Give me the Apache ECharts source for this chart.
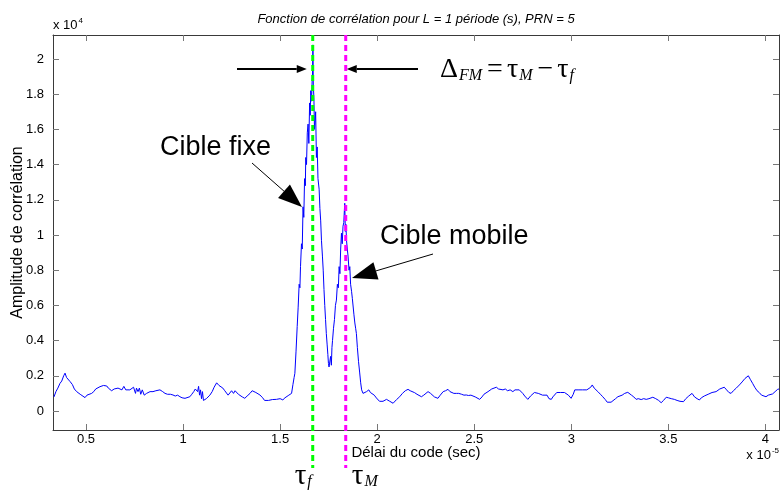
<!DOCTYPE html>
<html>
<head>
<meta charset="utf-8">
<script src="https://cdn.jsdelivr.net/npm/echarts@6/dist/echarts.min.js"></script>
<style>html,body{margin:0;padding:0;background:#fff}#c{width:781px;height:493px}</style>
</head>
<body>
<div id="c"></div>
<script>
// Delay (x 1e-5 s) and correlation amplitude (x 1e4)
const delayBase = [0.335,0.345,0.355,0.366,0.375,0.385,0.392,0.40,0.41,0.418,0.43,0.44,0.452,0.46,0.47,0.48,0.495,0.505,0.515,0.529,0.54,0.55,0.56,0.572,0.58,0.59,0.6,0.607,0.615,0.625,0.632,0.645,0.655,0.665,0.675,0.685,0.695,0.705,0.715,0.726,0.735,0.745,0.755,0.76,0.768,0.775,0.782,0.79,0.8,0.812,0.82,0.83,0.845,0.86,0.87,0.881,0.895,0.907,0.92,0.935,0.948,0.96,0.972,0.984,0.995,1.01,1.02,1.035,1.045,1.055,1.063,1.07,1.075,1.08,1.085,1.09,1.095,1.1,1.105,1.112,1.12,1.13,1.138,1.15,1.16,1.173,1.185,1.195,1.205,1.215,1.225,1.232,1.241,1.25,1.26,1.268,1.276,1.285,1.295,1.305,1.318,1.33,1.345,1.356,1.365,1.375,1.385,1.396,1.41,1.42,1.43,1.44,1.45,1.46,1.47,1.481,1.49,1.5,1.514,1.525,1.535,1.545,1.55];
const ampBase = [0.08,0.11,0.13,0.157,0.17,0.20,0.215,0.19,0.18,0.167,0.15,0.125,0.11,0.12,0.095,0.1,0.076,0.09,0.085,0.10,0.11,0.125,0.12,0.138,0.13,0.145,0.135,0.142,0.13,0.125,0.115,0.125,0.12,0.13,0.135,0.12,0.14,0.12,0.13,0.12,0.11,0.135,0.1,0.13,0.11,0.13,0.095,0.12,0.09,0.10,0.095,0.11,0.11,0.115,0.12,0.12,0.11,0.10,0.095,0.095,0.091,0.085,0.09,0.081,0.075,0.072,0.08,0.081,0.095,0.11,0.125,0.135,0.11,0.14,0.09,0.12,0.07,0.11,0.06,0.053,0.07,0.08,0.09,0.11,0.135,0.16,0.145,0.135,0.13,0.115,0.11,0.09,0.10,0.115,0.1,0.115,0.11,0.095,0.085,0.08,0.072,0.085,0.1,0.115,0.115,0.105,0.095,0.091,0.075,0.06,0.053,0.06,0.055,0.065,0.06,0.066,0.06,0.07,0.063,0.075,0.07,0.09,0.081];
const delayPeaks = [1.559,1.566,1.572,1.576,1.582,1.588,1.593,1.598,1.602,1.605,1.61,1.614,1.618,1.622,1.626,1.63,1.632,1.636,1.64,1.644,1.648,1.652,1.655,1.658,1.662,1.665,1.667,1.669,1.671,1.674,1.677,1.679,1.683,1.687,1.691,1.695,1.701,1.705,1.709,1.713,1.718,1.722,1.726,1.73,1.734,1.738,1.742,1.746,1.749,1.752,1.756,1.76,1.764,1.767,1.770,1.775,1.78,1.785,1.79,1.795,1.8,1.804,1.808,1.812,1.816,1.82,1.824,1.828,1.831,1.833,1.836,1.839,1.842,1.846,1.85,1.855,1.859,1.863,1.868,1.872,1.876,1.88,1.885,1.889,1.893,1.898,1.904,1.91,1.915,1.92,1.927];
const ampPeaks = [0.10,0.15,0.19,0.214,0.34,0.48,0.59,0.72,0.70,0.82,0.95,0.92,1.16,1.10,1.32,1.28,1.44,1.40,1.58,1.63,1.52,1.75,1.68,1.82,1.76,1.88,1.92,2.08,1.85,1.78,1.60,1.63,1.70,1.44,1.50,1.32,1.26,1.15,1.08,0.97,0.88,0.80,0.69,0.60,0.52,0.44,0.38,0.32,0.27,0.25,0.245,0.31,0.26,0.36,0.40,0.47,0.52,0.60,0.63,0.72,0.70,0.82,0.78,0.92,1.01,0.95,1.05,1.07,1.14,1.18,1.02,1.06,0.97,0.92,0.88,0.80,0.82,0.72,0.68,0.64,0.63,0.55,0.50,0.47,0.44,0.36,0.28,0.216,0.16,0.12,0.10];
const delayTail = [1.935,1.945,1.957,1.965,1.975,1.985,1.996,2.005,2.012,2.022,2.03,2.04,2.048,2.055,2.065,2.075,2.082,2.09,2.1,2.116,2.13,2.145,2.159,2.17,2.18,2.193,2.205,2.215,2.228,2.24,2.25,2.262,2.275,2.285,2.295,2.305,2.313,2.325,2.34,2.352,2.365,2.375,2.385,2.395,2.408,2.42,2.435,2.447,2.459,2.47,2.483,2.493,2.505,2.515,2.528,2.54,2.55,2.56,2.571,2.58,2.59,2.6,2.614,2.625,2.635,2.648,2.66,2.672,2.685,2.699,2.71,2.72,2.732,2.742,2.75,2.76,2.776,2.79,2.8,2.81,2.82,2.83,2.84,2.852,2.862,2.875,2.885,2.897,2.905,2.915,2.925,2.934,2.945,2.955,2.965,2.974,2.985,2.999,3.01,3.018,3.025,3.035,3.045,3.058,3.068,3.08,3.09,3.1,3.108,3.118,3.128,3.137,3.15,3.162,3.175,3.185,3.193,3.205,3.215,3.228,3.24,3.25,3.262,3.275,3.285,3.291,3.3,3.31,3.322,3.334,3.345,3.36,3.373,3.386,3.4,3.41,3.42,3.435,3.45,3.463,3.475,3.489,3.5,3.515,3.531,3.545,3.56,3.578,3.59,3.605,3.622,3.635,3.648,3.66,3.67,3.685,3.694,3.705,3.715,3.725,3.735,3.746,3.755,3.765,3.775,3.788,3.8,3.812,3.823,3.835,3.85,3.866,3.88,3.895,3.905,3.912,3.922,3.934,3.945,3.957,3.969,3.98,3.99,4.003,4.015,4.025,4.037,4.05,4.063,4.07];
const ampTail = [0.095,0.11,0.12,0.105,0.1,0.09,0.074,0.065,0.055,0.047,0.055,0.06,0.066,0.06,0.055,0.05,0.044,0.055,0.065,0.081,0.1,0.115,0.123,0.115,0.11,0.104,0.095,0.09,0.081,0.09,0.1,0.11,0.1,0.09,0.08,0.085,0.072,0.09,0.11,0.115,0.123,0.11,0.118,0.1,0.10,0.1,0.095,0.09,0.091,0.088,0.09,0.085,0.08,0.075,0.066,0.08,0.095,0.1,0.11,0.12,0.125,0.13,0.135,0.125,0.13,0.12,0.125,0.115,0.12,0.11,0.12,0.115,0.12,0.123,0.1,0.085,0.066,0.085,0.095,0.105,0.11,0.1,0.105,0.09,0.081,0.09,0.07,0.066,0.08,0.09,0.105,0.11,0.105,0.11,0.105,0.10,0.09,0.072,0.095,0.12,0.129,0.12,0.115,0.12,0.11,0.12,0.13,0.135,0.148,0.13,0.12,0.11,0.095,0.081,0.065,0.05,0.04,0.05,0.06,0.07,0.081,0.085,0.09,0.1,0.105,0.106,0.1,0.09,0.08,0.066,0.07,0.065,0.07,0.066,0.07,0.075,0.078,0.07,0.06,0.047,0.06,0.078,0.075,0.07,0.066,0.06,0.055,0.053,0.07,0.085,0.10,0.08,0.07,0.0625,0.075,0.085,0.091,0.095,0.1,0.105,0.11,0.11,0.12,0.125,0.13,0.135,0.12,0.105,0.10,0.115,0.13,0.148,0.165,0.185,0.195,0.2,0.18,0.157,0.135,0.115,0.104,0.09,0.085,0.081,0.09,0.095,0.097,0.11,0.123,0.125];
const xTicks = [0.5,1,1.5,2,2.5,3,3.5,4];
const yTicks = [0,0.2,0.4,0.6,0.8,1,1.2,1.4,1.6,1.8,2];
const tauF = 1.668;
const tauM = 1.838;
const titleText = 'Fonction de corrélation pour L = 1 période (s), PRN = 5';
const xName = 'Délai du code (sec)';
const yName = 'Amplitude de corrélation';

const delays = delayBase.concat(delayPeaks, delayTail);
const amps = ampBase.concat(ampPeaks, ampTail);
const seriesData = delays.map((d, i) => [d, amps[i]]);

const chart = echarts.init(document.getElementById('c'), null, {renderer: 'canvas'});
const FONT = 'Liberation Sans, Arial, Helvetica, sans-serif';
const SERIF = 'Liberation Serif, Times New Roman, serif';
const axisLineStyle = {color: '#3a3a3a', width: 1};
const tickStyle = {color: '#777', width: 1};
const xmin = 0.33, xmax = 4.07, ymin = -0.108, ymax = 2.136;

function xAxisCfg(pos, showLabel) {
  return {
    type: 'value', position: pos, min: xmin, max: xmax,
    axisLine: {show: true, onZero: false, lineStyle: axisLineStyle},
    axisTick: {show: true, inside: true, length: 6, customValues: xTicks, lineStyle: tickStyle},
    axisLabel: {show: showLabel, customValues: xTicks, color: '#000', fontFamily: FONT, fontSize: 13, margin: 3,
      formatter: v => String(v)},
    splitLine: {show: false}
  };
}
function yAxisCfg(pos, showLabel) {
  return {
    type: 'value', position: pos, min: ymin, max: ymax,
    axisLine: {show: true, onZero: false, lineStyle: axisLineStyle},
    axisTick: {show: true, inside: true, length: 6, customValues: yTicks, lineStyle: tickStyle},
    axisLabel: {show: showLabel, customValues: yTicks, color: '#000', fontFamily: FONT, fontSize: 13, margin: 9,
      formatter: v => String(v)},
    splitLine: {show: false}
  };
}

const xa0 = xAxisCfg('bottom', true);
xa0.name = xName; xa0.nameLocation = 'middle'; xa0.nameGap = 15; xa0.nameMoveOverlap = false;
xa0.nameTextStyle = {color: '#000', fontFamily: FONT, fontSize: 15};
const ya0 = yAxisCfg('left', true);
ya0.name = yName; ya0.nameLocation = 'middle'; ya0.nameGap = 27; ya0.nameMoveOverlap = false;
ya0.nameTextStyle = {color: '#000', fontFamily: FONT, fontSize: 16};

chart.setOption({
  animation: false,
  backgroundColor: '#fff',
  grid: {left: 53, top: 35, right: 2, bottom: 63, containLabel: false, outerBoundsMode: 'none'},
  xAxis: [xa0, xAxisCfg('top', false)],
  yAxis: [ya0, yAxisCfg('right', false)],
  series: [{
    type: 'line', data: seriesData, xAxisIndex: 0, yAxisIndex: 0,
    showSymbol: false, symbol: 'none', smooth: false,
    lineStyle: {color: '#0000ff', width: 1}, z: 2
  }]
});

function arrow(x1, y1, x2, y2, hl, hw, lw) {
  const dx = x2 - x1, dy = y2 - y1, L = Math.hypot(dx, dy);
  const ux = dx / L, uy = dy / L;
  const bx = x2 - ux * hl, by = y2 - uy * hl;
  return [
    {type: 'line', shape: {x1: x1, y1: y1, x2: bx, y2: by}, style: {stroke: '#000', lineWidth: lw}, z: 10},
    {type: 'polygon', shape: {points: [[x2, y2], [bx - uy * hw, by + ux * hw], [bx + uy * hw, by - ux * hw]]}, style: {fill: '#000'}, z: 10}
  ];
}

const pf = chart.convertToPixel({xAxisIndex: 0}, tauF);
const pm = chart.convertToPixel({xAxisIndex: 0}, tauM);
const topY = chart.convertToPixel({yAxisIndex: 0}, ymax);

const g = [];
g.push({type: 'text', x: 416, y: 19, style: {text: titleText, font: 'italic 13px ' + FONT, fill: '#000', align: 'center', verticalAlign: 'middle'}});
g.push({type: 'text', x: 53, y: 25, style: {text: '{a|x 10}{s|4}', align: 'left', verticalAlign: 'middle',
  rich: {a: {fontFamily: FONT, fontSize: 13, fill: '#000'}, s: {fontFamily: FONT, fontSize: 8, fill: '#000', padding: [0, 0, 8, 1]}}}});
g.push({type: 'text', x: 779, y: 455, style: {text: '{a|x 10}{s|-5}', align: 'right', verticalAlign: 'middle',
  rich: {a: {fontFamily: FONT, fontSize: 13, fill: '#000'}, s: {fontFamily: FONT, fontSize: 8, fill: '#000', padding: [0, 0, 8, 1]}}}});
// vertical delay markers
g.push({type: 'line', shape: {x1: pf, y1: topY, x2: pf, y2: 468}, style: {stroke: '#00ff00', lineWidth: 3, lineDash: [6, 4]}, z: 5});
g.push({type: 'line', shape: {x1: pm, y1: topY, x2: pm, y2: 468}, style: {stroke: '#ff00ff', lineWidth: 3, lineDash: [6, 4]}, z: 5});
// tau labels
const tauRich = {t: {fontFamily: SERIF, fontSize: 29, fill: '#000'}, s: {fontFamily: SERIF, fontStyle: 'italic', fontSize: 16, fill: '#000', padding: [12, 0, 0, 1]}};
g.push({type: 'text', x: pf - 1, y: 476, style: {text: '{t|τ}{s|f}', align: 'right', verticalAlign: 'middle', rich: tauRich}});
g.push({type: 'text', x: pm + 6, y: 476, style: {text: '{t|τ}{s|M}', align: 'left', verticalAlign: 'middle', rich: tauRich}});
// delta annotation
const dRich = {
  t: {fontFamily: SERIF, fontSize: 28, fill: '#000'},
  o: {fontFamily: SERIF, fontSize: 28, fill: '#000', padding: [0, 4, 0, 4]},
  s: {fontFamily: SERIF, fontStyle: 'italic', fontSize: 16, fill: '#000', padding: [12, 1, 0, 1]}
};
g.push({type: 'text', x: 440, y: 70, style: {text: '{t|Δ}{s|FM}{o|=}{t|τ}{s|M}{o|−}{t|τ}{s|f}', align: 'left', verticalAlign: 'middle', rich: dRich}});
// horizontal arrows
g.push(...arrow(237, 69, pf - 6, 69, 10, 4, 2));
g.push(...arrow(418, 69, pm + 1, 69, 10, 4, 2));
// target labels
g.push({type: 'text', x: 160, y: 148, style: {text: 'Cible fixe', font: '27px ' + FONT, fill: '#000', align: 'left', verticalAlign: 'middle'}});
g.push({type: 'text', x: 380, y: 237, style: {text: 'Cible mobile', font: '27px ' + FONT, fill: '#000', align: 'left', verticalAlign: 'middle'}});
g.push(...arrow(252, 163, 302, 207, 24, 9, 1));
g.push(...arrow(433, 254, 352, 278, 25, 9, 1));

chart.setOption({graphic: g});
</script>
</body>
</html>
